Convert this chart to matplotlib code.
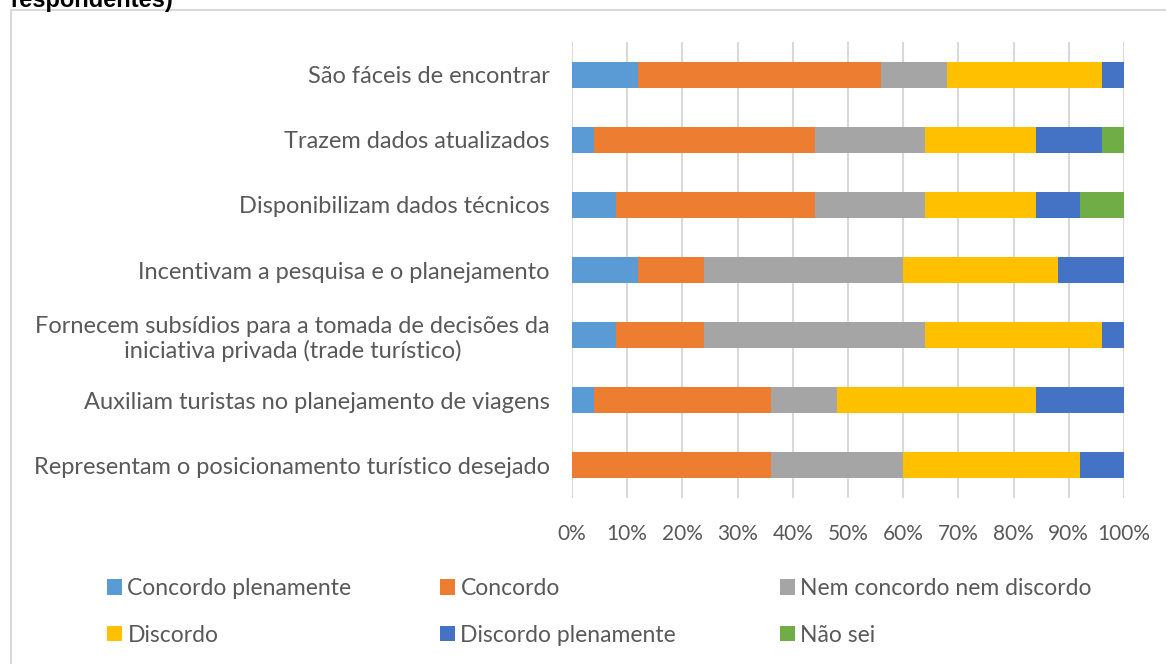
import matplotlib
matplotlib.use('Agg')
import matplotlib.pyplot as plt
import numpy as np
from matplotlib.patches import Rectangle, Patch
from matplotlib.ticker import PercentFormatter

plt.rcParams['font.family'] = ['Lato', 'DejaVu Sans']

# ── dados ──────────────────────────────────────────
categorias = [
    'São fáceis de encontrar',
    'Trazem dados atualizados',
    'Disponibilizam dados técnicos',
    'Incentivam a pesquisa e o planejamento',
    'Fornecem subsídios para a tomada de decisões da\niniciativa privada (trade turístico)',
    'Auxiliam turistas no planejamento de viagens',
    'Representam o posicionamento turístico desejado',
]
series = ['Concordo plenamente', 'Concordo', 'Nem concordo nem discordo',
          'Discordo', 'Discordo plenamente', 'Não sei']
concordo_plen = [12, 4, 8, 12, 8, 4, 0]
concordo = [44, 40, 36, 12, 16, 32, 36]
nem = [12, 20, 20, 36, 40, 12, 24]
discordo = [28, 20, 20, 28, 32, 36, 32]
discordo_plen = [4, 12, 8, 12, 4, 16, 8]
nao_sei = [0, 4, 8, 0, 0, 0, 0]
valores = [concordo_plen, concordo, nem, discordo, discordo_plen, nao_sei]
cores = ['#5B9BD5', '#ED7D31', '#A5A5A5', '#FFC000', '#4472C4', '#70AD47']

# ── figura ─────────────────────────────────────────
fig = plt.figure(figsize=(11.66, 6.64), dpi=100)
fig.patch.set_facecolor('white')
ax = fig.add_axes([572 / 1166, 1 - 498 / 664, 552 / 1166, 456 / 664])

y = np.arange(len(categorias))
esq = np.zeros(len(categorias))
for nome, vals, cor in zip(series, valores, cores):
    vals = np.array(vals, dtype=float)
    ax.barh(y, vals, left=esq, height=0.4, color=cor, label=nome, zorder=3)
    esq += vals

ax.set_xlim(0, 100)
ax.set_ylim(len(categorias) - 0.5, -0.5)
ax.set_xticks(np.arange(0, 101, 10))
ax.xaxis.set_major_formatter(PercentFormatter(decimals=0))
ax.set_yticks(y)
ax.set_yticklabels(categorias)
for lbl in ax.get_yticklabels():
    lbl.set_multialignment('center')
ax.tick_params(axis='both', length=0, labelcolor='#595959')
ax.tick_params(axis='x', labelsize=15, pad=19)
ax.tick_params(axis='y', labelsize=17, pad=16)
ax.grid(axis='x', color='#D9D9D9', linewidth=1.5, zorder=0)
for s in ax.spines.values():
    s.set_visible(False)

# ── legenda (3 colunas, 2 linhas) ─────────────────
handles = [Patch(facecolor=c, edgecolor='none') for c in cores]
xcols = [107 / 1166, 440 / 1166, 780 / 1166]
for i, xc in enumerate(xcols):
    fig.legend([handles[i], handles[i + 3]], [series[i], series[i + 3]],
               loc='upper left', bbox_to_anchor=(xc, 1 - 578 / 664),
               frameon=False, fontsize=16.5, labelcolor='#595959',
               handlelength=0.64, handleheight=0.64, handletextpad=0.25,
               labelspacing=1.12, borderpad=0, borderaxespad=0)

# ── moldura e título cortado ───────────────────────
fig.add_artist(Rectangle((11 / 1166, -0.1), 1.2, 1.1 - 10 / 664,
                         transform=fig.transFigure, fill=False,
                         edgecolor='#D9D9D9', linewidth=1.5, clip_on=False))
fig.text(10 / 1166, 1 - 7 / 664, 'respondentes)', fontsize=17,
         fontweight='bold', family='Liberation Sans', va='baseline', color='black')

plt.savefig('out.png', dpi=100, facecolor='white')
plt.close()
